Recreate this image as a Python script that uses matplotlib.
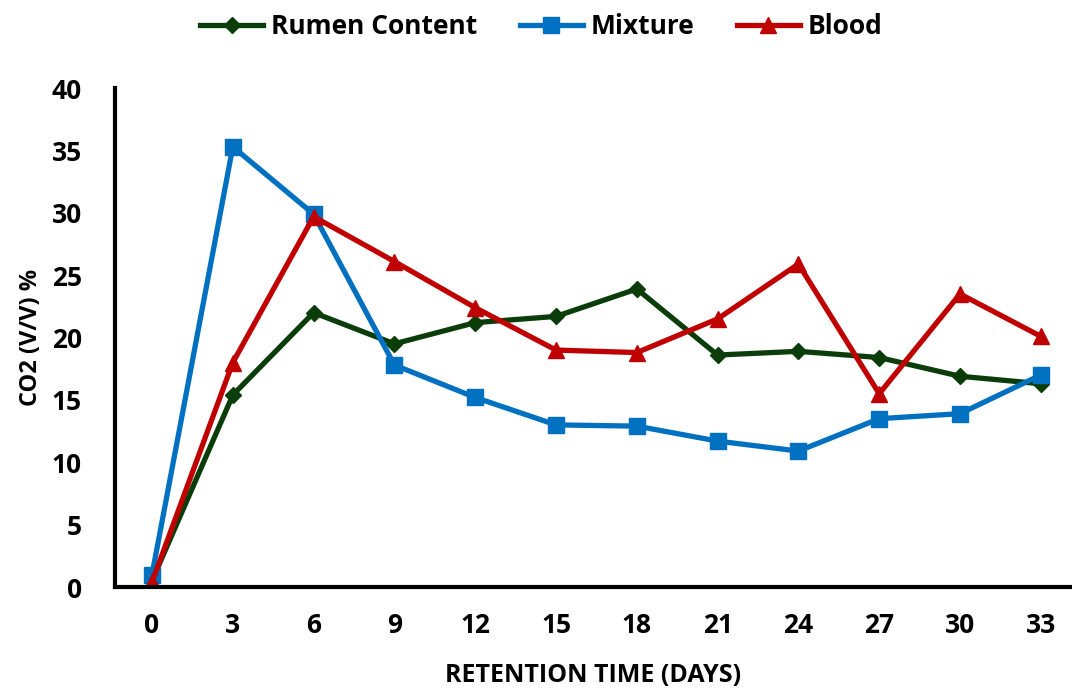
import matplotlib
matplotlib.use("Agg")
import matplotlib.pyplot as plt

days = [0, 3, 6, 9, 12, 15, 18, 21, 24, 27, 30, 33]
rumen = [0.5, 15.4, 22.0, 19.5, 21.2, 21.7, 23.9, 18.6, 18.9, 18.4, 16.9, 16.3]
mixture = [1.0, 35.3, 29.9, 17.8, 15.2, 13.0, 12.9, 11.7, 10.9, 13.5, 13.9, 17.0]
blood = [0.4, 18.0, 29.7, 26.1, 22.4, 19.0, 18.8, 21.5, 25.9, 15.5, 23.5, 20.1]

plt.rcParams['font.family'] = ['Open Sans', 'DejaVu Sans']
plt.rcParams['font.weight'] = 'bold'

fig = plt.figure(figsize=(10.72, 6.88), dpi=100)
ax = fig.add_axes([0.1073, 0.1468, 0.8927, 0.725])

x = range(len(days))
ax.plot(x, rumen, color='#0B3D0B', lw=3.8, marker='D', ms=8, label='Rumen Content')
ax.plot(x, mixture, color='#0070C0', lw=3.8, marker='s', ms=11, label='Mixture')
ax.plot(x, blood, color='#C00000', lw=3.8, marker='^', ms=12, label='Blood')

ax.set_xlim(-0.458, 11.386)
ax.set_ylim(0, 40)
ax.set_yticks(range(0, 41, 5))
ax.set_xticks(list(x))
ax.set_xticklabels([str(d) for d in days])
ax.tick_params(length=0, labelsize=19, pad=18)
ax.tick_params(axis='y', pad=24)
for lab in ax.get_xticklabels() + ax.get_yticklabels():
    lab.set_fontweight('bold')

for s in ['top', 'right']:
    ax.spines[s].set_visible(False)
for s in ['left', 'bottom']:
    ax.spines[s].set_linewidth(3)

ax.set_xlabel('RETENTION TIME (DAYS)', fontsize=18, fontweight='bold', labelpad=17)
ax.set_ylabel('CO2 (V/V) %', fontsize=17, fontweight='bold', labelpad=6)

fig.legend(loc='upper center', bbox_to_anchor=(0.505, 1.015), ncol=3, frameon=False,
           prop={'size': 19, 'weight': 'bold'}, handlelength=2.4, columnspacing=1.6,
           handletextpad=0.3)

fig.savefig('out.png', dpi=100)
